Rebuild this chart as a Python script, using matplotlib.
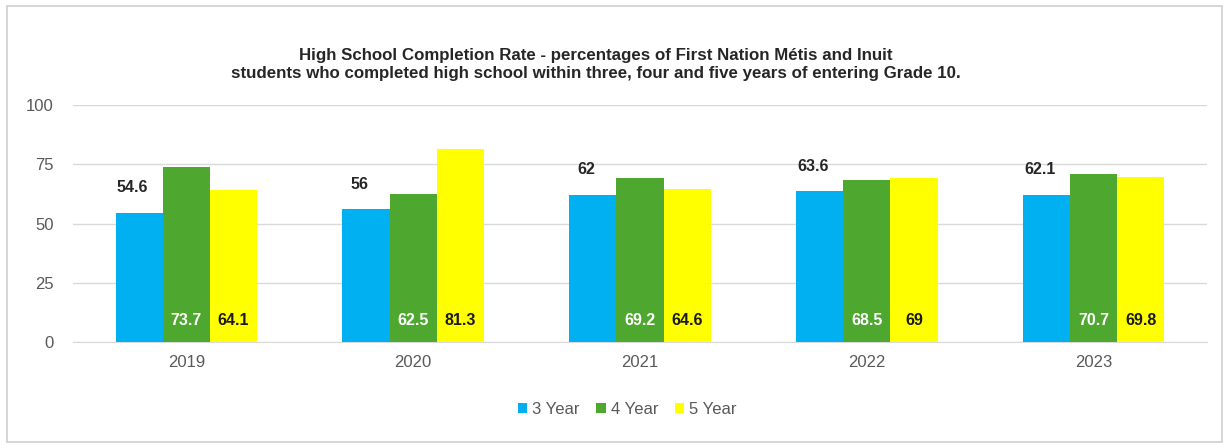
import numpy as np
import matplotlib.pyplot as plt
from matplotlib.patches import Rectangle

years = ['2019', '2020', '2021', '2022', '2023']
three_year = [54.6, 56, 62, 63.6, 62.1]
four_year = [73.7, 62.5, 69.2, 68.5, 70.7]
five_year = [64.1, 81.3, 64.6, 69, 69.8]
series_names = ['3 Year', '4 Year', '5 Year']

COLORS = ['#00B0F0', '#4EA72E', '#FFFF00']
GRAY = '#595959'

plt.rcParams['font.family'] = ['Liberation Sans', 'DejaVu Sans']

fig = plt.figure(figsize=(12.3, 4.48), dpi=100)
ax = fig.add_axes([0.0593, 0.2366, 0.922, 0.529])

x = np.arange(len(years))
w = 0.208
b3 = ax.bar(x - w, three_year, w, color=COLORS[0], label=series_names[0], zorder=3)
b4 = ax.bar(x, four_year, w, color=COLORS[1], label=series_names[1], zorder=3)
b5 = ax.bar(x + w, five_year, w, color=COLORS[2], label=series_names[2], zorder=3)

# 3-year values sit above their bars, the others inside near the base
for xi, v in zip(x, three_year):
    ax.text(xi - w - 0.03, v + 7.5, f'{v:g}', ha='center', va='bottom',
            fontsize=11.5, fontweight='bold', color='#262626')
for xi, v in zip(x, four_year):
    ax.text(xi, 9, f'{v:g}', ha='center', va='center',
            fontsize=11.5, fontweight='bold', color='white', zorder=4)
for xi, v in zip(x + w, five_year):
    ax.text(xi, 9, f'{v:g}', ha='center', va='center',
            fontsize=11.5, fontweight='bold', color='#1a1a1a', zorder=4)

ax.set_xlim(-0.5, len(years) - 0.5)
ax.set_ylim(0, 100)
ax.set_yticks([0, 25, 50, 75, 100])
ax.set_xticks(x)
ax.set_xticklabels(years)
ax.tick_params(axis='both', length=0, labelsize=12, colors=GRAY)
ax.tick_params(axis='y', pad=14)
ax.tick_params(axis='x', pad=9)
ax.grid(axis='y', color='#d9d9d9', linewidth=1, zorder=0)
for s in ['top', 'right', 'left']:
    ax.spines[s].set_visible(False)
ax.spines['bottom'].set_color('#d9d9d9')

fig.text(0.4846, 0.855,
         'High School Completion Rate - percentages of First Nation Métis and Inuit\n'
         'students who completed high school within three, four and five years of entering Grade 10.',
         ha='center', va='center', fontsize=12.2, fontweight='bold', color='#262626',
         linespacing=1.25)

leg = fig.legend(handles=[b3, b4, b5], loc='center', bbox_to_anchor=(0.51, 0.087),
                 ncol=3, frameon=False, fontsize=12, handlelength=0.55, handleheight=0.55,
                 handletextpad=0.3, columnspacing=1.0)
for t in leg.get_texts():
    t.set_color(GRAY)

fig.patches.append(Rectangle((7 / 1230, 6 / 448), 1215 / 1230, 436 / 448,
                             transform=fig.transFigure, fill=False,
                             edgecolor='#d0d0d0', linewidth=1.2))

fig.savefig('out.png', dpi=100)
